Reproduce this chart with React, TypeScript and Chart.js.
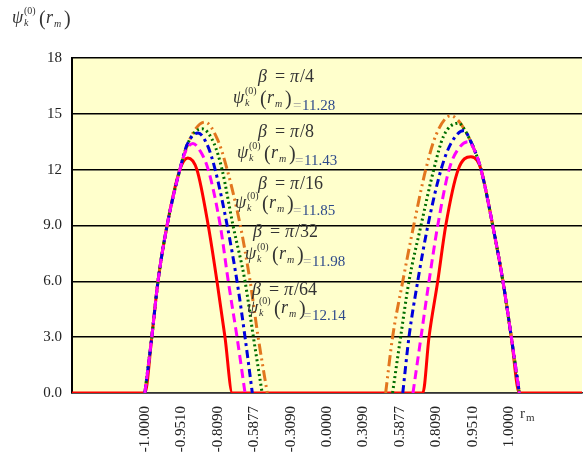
import React, { useEffect, useRef } from "react";
import { Chart, registerables } from "chart.js";

Chart.register(...registerables);

// Axis tick labels (positions 0..10 along the horizontal axis)
const xTickLabels = ["-1.0000", "-0.9510", "-0.8090", "-0.5877", "-0.3090", "0.0000", "0.3090", "0.5877", "0.8090", "0.9510", "1.0000"];
const yTickValues = [0, 3, 6, 9, 12, 15, 18];
const yTickLabels = ["0.0", "3.0", "6.0", "9.0", "12", "15", "18"];

// Annotation texts
const betaLabels = ["π/4", "π/8", "π/16", "π/32", "π/64"];
const psiValues = ["11.28", "11.43", "11.85", "11.98", "12.14"];

// Series (x = position along the axis, y = ψ value); null = gap
const redX = [-2, 0, 0.19, 0.36, 0.61, 0.96, 1.18, 1.43, 1.74, 1.98, 2.2, 2.4, 7.63, 7.8, 8.04, 8.26, 8.6, 8.95, 9.12, 9.23, 9.55, 9.83, 10.06, 10.28, 12];
const redY = [0, 0, 3, 6, 9, 12, 12.63, 12, 9, 6, 3, 0, 0, 3, 6, 9, 12, 12.7, 12.5, 12, 9, 6, 3, 0, 0];

const magentaX = [0, 0.19, 0.36, 0.61, 0.96, 1.12, 1.32, 1.52, 1.74, 2.07, 2.29, 2.53, 2.75, 5, 7.36, 7.58, 7.8, 8.04, 8.35, 8.6, 8.88, 9.1, 9.23, 9.55, 9.83, 10.06, 10.28];
const magentaY = [0, 3, 6, 9, 12, 13, 13.4, 13, 12, 9, 6, 3, 0, null, 0, 3, 6, 9, 12, 13.1, 13.5, 12.8, 12, 9, 6, 3, 0];

const blueX = [0, 0.19, 0.36, 0.61, 0.96, 1.15, 1.46, 1.72, 1.93, 2.26, 2.53, 2.75, 2.95, 5, 7.08, 7.25, 7.49, 7.77, 8.13, 8.4, 8.76, 8.95, 9.1, 9.23, 9.55, 9.83, 10.06, 10.28];
const blueY = [0, 3, 6, 9, 12, 13.3, 13.97, 13.3, 12, 9, 6, 3, 0, null, 0, 3, 6, 9, 12, 13.4, 14.1, 13.5, 12.8, 12, 9, 6, 3, 0];

const greenX = [0, 0.19, 0.36, 0.61, 0.96, 1.2, 1.57, 1.9, 2.12, 2.42, 2.75, 2.98, 3.22, 5, 6.8, 7.02, 7.25, 7.58, 7.93, 8.2, 8.62, 8.76, 8.95, 9.1, 9.23, 9.55, 9.83, 10.06, 10.28];
const greenY = [0, 3, 6, 9, 12, 13.5, 14.2, 13.4, 12, 9, 6, 3, 0, null, 0, 3, 6, 9, 12, 13.8, 14.5, 14.2, 13.5, 12.8, 12, 9, 6, 3, 0];

const orangeX = [0, 0.19, 0.36, 0.61, 0.96, 1.25, 1.65, 2.0, 2.26, 2.62, 2.89, 3.11, 3.36, 5, 6.61, 6.8, 7.08, 7.38, 7.71, 8.0, 8.4, 8.6, 8.76, 8.95, 9.1, 9.23, 9.55, 9.83, 10.06, 10.28];
const orangeY = [0, 3, 6, 9, 12, 13.7, 14.56, 13.6, 12, 9, 6, 3, 0, null, 0, 3, 6, 9, 12, 13.9, 14.9, 14.65, 14.2, 13.5, 12.8, 12, 9, 6, 3, 0];

const toPoints = (xs: number[], ys: (number | null)[]) => xs.map((x, i) => ({ x, y: ys[i] }));

const SERIF = '"Liberation Serif", "Times New Roman", serif';

function drawPsi(ctx: CanvasRenderingContext2D, x: number, b: number, color: string) {
  ctx.save();
  ctx.fillStyle = color;
  ctx.textAlign = "left";
  ctx.textBaseline = "alphabetic";
  ctx.font = `italic 18px ${SERIF}`;
  ctx.fillText("ψ", x, b);
  ctx.font = `10px ${SERIF}`;
  ctx.fillText("(0)", x + 12, b - 9);
  ctx.font = `italic 10px ${SERIF}`;
  ctx.fillText("k", x + 12, b + 3);
  ctx.font = `20px ${SERIF}`;
  ctx.fillText("(", x + 27, b + 2);
  ctx.font = `italic 18px ${SERIF}`;
  ctx.fillText("r", x + 34, b);
  ctx.font = `italic 10px ${SERIF}`;
  ctx.fillText("m", x + 42, b + 4);
  ctx.font = `20px ${SERIF}`;
  ctx.fillText(")", x + 52, b + 2);
  ctx.restore();
}

const bgPlugin = {
  id: "bgPlugin",
  beforeDraw(chart: any) {
    const { ctx, chartArea } = chart;
    ctx.save();
    ctx.fillStyle = "#ffffff";
    ctx.fillRect(0, 0, chart.width, chart.height);
    ctx.fillStyle = "#FFFFCC";
    ctx.fillRect(chartArea.left, chartArea.top, chartArea.right - chartArea.left, chartArea.bottom - chartArea.top);
    ctx.restore();
  },
};

const betaPos = [
  { bx: 258, by: 82, px: 233, py: 103, vx: 293, vy: 110 },
  { bx: 258, by: 137, px: 237, py: 158, vx: 295, vy: 165 },
  { bx: 258, by: 189, px: 235, py: 208, vx: 293, vy: 215 },
  { bx: 253, by: 237, px: 245, py: 259, vx: 303, vy: 266 },
  { bx: 252, by: 295, px: 247, py: 313, vx: 303, vy: 320 },
];

const textPlugin = {
  id: "textPlugin",
  afterDraw(chart: any) {
    const ctx: CanvasRenderingContext2D = chart.ctx;
    ctx.save();
    // y-axis title
    drawPsi(ctx, 12, 23, "#333333");
    // x-axis unit
    ctx.fillStyle = "#333333";
    ctx.textAlign = "left";
    ctx.font = `15px ${SERIF}`;
    ctx.fillText("r", 520, 418);
    ctx.font = `11px ${SERIF}`;
    ctx.fillText("m", 526, 421);
    // annotations
    betaLabels.forEach((lab, i) => {
      const p = betaPos[i];
      ctx.fillStyle = "#333333";
      ctx.font = `italic 18px ${SERIF}`;
      ctx.fillText("β", p.bx, p.by);
      ctx.font = `18px ${SERIF}`;
      ctx.fillText("=", p.bx + 17, p.by);
      ctx.font = `italic 18px ${SERIF}`;
      ctx.fillText(lab.slice(0, 1), p.bx + 32, p.by);
      ctx.font = `18px ${SERIF}`;
      ctx.fillText("/" + lab.slice(2), p.bx + 42, p.by);
      drawPsi(ctx, p.px, p.py, "#333333");
      ctx.font = `15px ${SERIF}`;
      ctx.fillStyle = "#9a9a9a";
      ctx.fillText("=", p.vx, p.vy);
      ctx.fillStyle = "#2E4A8A";
      ctx.fillText(psiValues[i], p.vx + 9, p.vy);
    });
    ctx.restore();
  },
};

export default function App() {
  const ref = useRef<HTMLCanvasElement | null>(null);
  useEffect(() => {
    if (!ref.current) return;
    const chart = new Chart(ref.current, {
      type: "line",
      data: {
        datasets: [
          { label: "β = π/4", data: toPoints(redX, redY), borderColor: "#FF0000", borderWidth: 3, order: 5 },
          { label: "β = π/8", data: toPoints(magentaX, magentaY), borderColor: "#FF00FF", borderWidth: 3, borderDash: [9, 5], order: 0 },
          { label: "β = π/16", data: toPoints(blueX, blueY), borderColor: "#0000DD", borderWidth: 3, borderDash: [8, 4, 3, 4], order: 1 },
          { label: "β = π/32", data: toPoints(greenX, greenY), borderColor: "#006E00", borderWidth: 3, borderDash: [2, 3], order: 2 },
          { label: "β = π/64", data: toPoints(orangeX, orangeY), borderColor: "#E2761E", borderWidth: 3, borderDash: [11, 4, 2, 4, 2, 4], order: 3 },
        ],
      },
      options: {
        responsive: false,
        animation: false,
        devicePixelRatio: 1,
        spanGaps: false,
        elements: {
          point: { radius: 0 },
          line: { cubicInterpolationMode: "monotone", fill: false },
        },
        layout: { padding: { top: 58, right: 4, left: 0, bottom: 0 } },
        plugins: { legend: { display: false }, tooltip: { enabled: false } },
        scales: {
          x: {
            type: "linear",
            min: -2,
            max: 12,
            afterBuildTicks: (s: any) => {
              s.ticks = xTickLabels.map((_, i) => ({ value: i }));
            },
            afterFit: (s: any) => {
              s.height = 61;
            },
            ticks: {
              autoSkip: false,
              minRotation: 90,
              maxRotation: 90,
              padding: 5,
              color: "#222222",
              font: { family: SERIF, size: 15 },
              callback: (v: any) => xTickLabels[Math.round(Number(v))] ?? "",
            },
            grid: { display: false },
            border: { display: true, color: "#333333", width: 1.5 },
          },
          y: {
            min: 0,
            max: 18,
            afterBuildTicks: (s: any) => {
              s.ticks = yTickValues.map((v) => ({ value: v }));
            },
            afterFit: (s: any) => {
              s.width = 72;
            },
            ticks: {
              padding: 10,
              color: "#222222",
              font: { family: SERIF, size: 15 },
              callback: (v: any) => yTickLabels[yTickValues.indexOf(Number(v))] ?? "",
            },
            grid: { color: "#000000", lineWidth: 1.5, drawTicks: false },
            border: { display: true, color: "#000000", width: 2 },
          },
        },
      },
      plugins: [bgPlugin, textPlugin],
    } as any);
    return () => chart.destroy();
  }, []);
  return (
    <div style={{ position: "absolute", left: 0, top: 0, width: 586, height: 454, background: "#fff" }}>
      <canvas ref={ref} width={586} height={454} style={{ display: "block", width: 586, height: 454 }} />
    </div>
  );
}
